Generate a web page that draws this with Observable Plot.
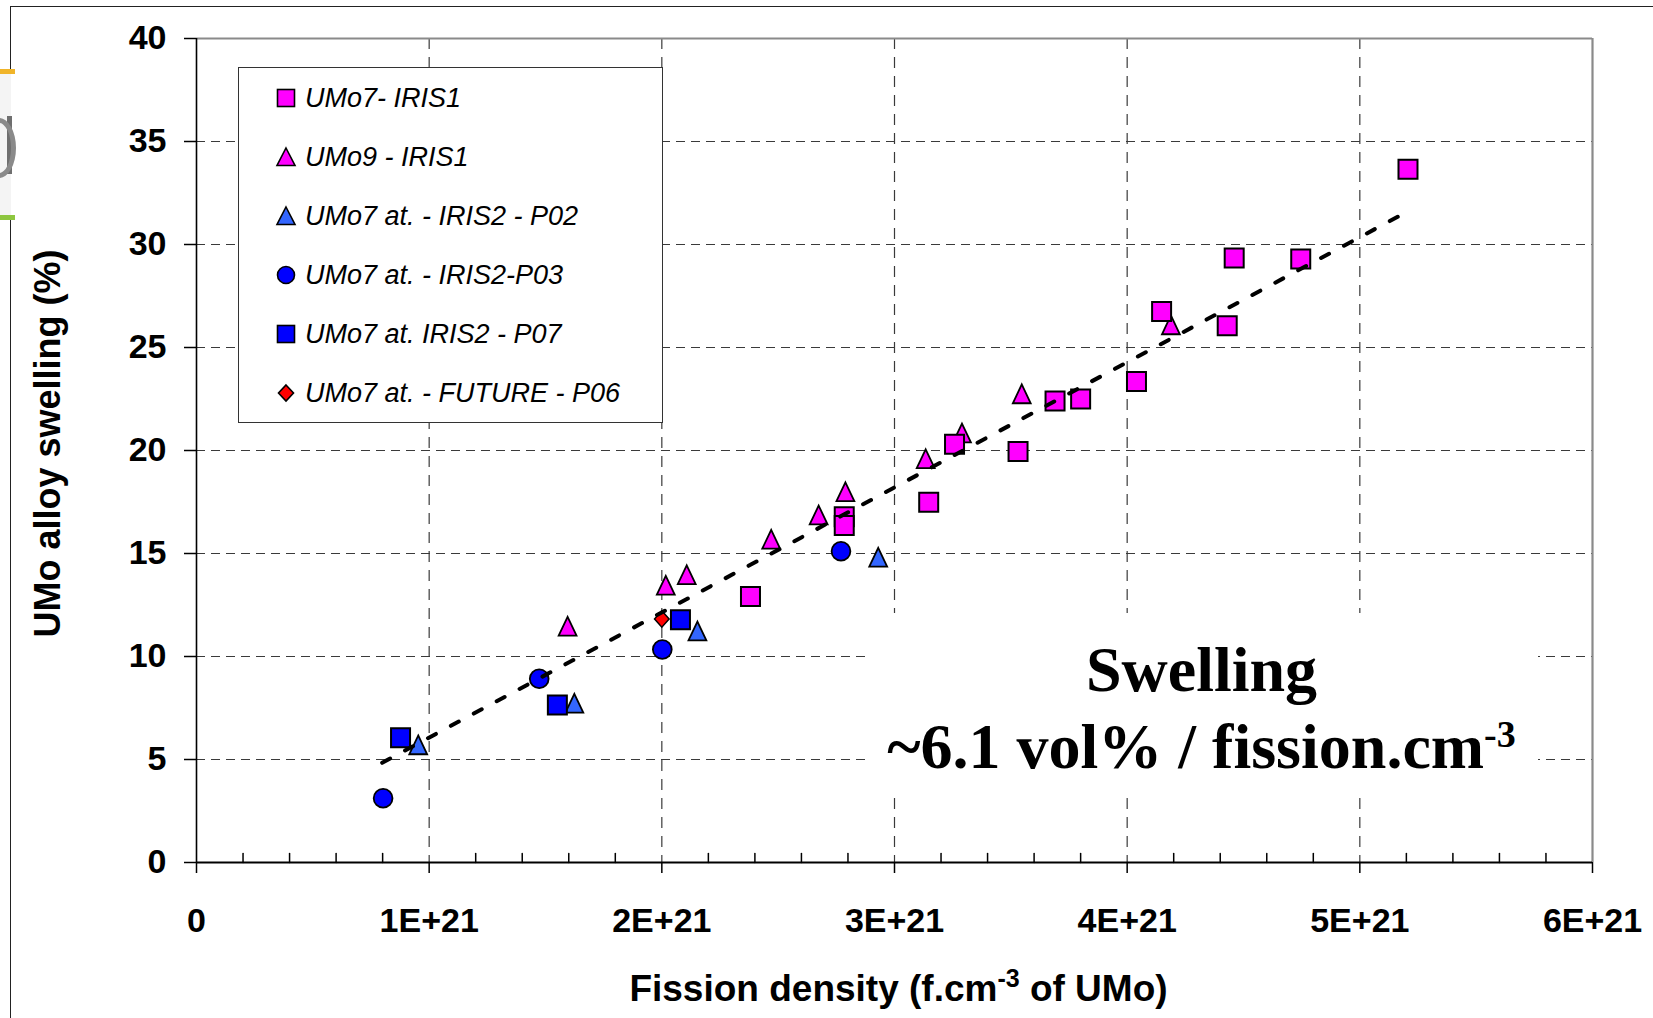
<!DOCTYPE html>
<html><head><meta charset="utf-8">
<script src="https://cdn.jsdelivr.net/npm/d3@7"></script>
<script src="https://cdn.jsdelivr.net/npm/@observablehq/plot@0.6"></script>
<style>
html,body{margin:0;padding:0;overflow:hidden;background:#fff;}
#wrap{position:relative;width:1653px;height:1018px;overflow:hidden;}
#wrap svg{position:absolute;left:0;top:0;}
.ov{position:absolute;}
#legend{font-family:'Liberation Sans',Arial,sans-serif;font-style:italic;font-size:27px;color:#000;}
#legend .item{position:absolute;left:0;height:0;}
#legend .item svg{position:absolute;left:35px;top:-12px;}
#legend .item span{position:absolute;left:66px;top:-16px;line-height:32px;white-space:nowrap;}
#note{font-family:'Liberation Serif','Times New Roman',serif;font-weight:bold;font-size:64px;color:#000;}
#note div{position:absolute;left:0;right:0;text-align:center;line-height:64px;white-space:nowrap;}
#note sup{font-size:38px;vertical-align:0;position:relative;top:-21px;line-height:0;}
</style></head><body><div id="wrap"></div>
<script>
// ---------- data ----------
const xTicks = [0, 1e21, 2e21, 3e21, 4e21, 5e21, 6e21];
const xTickLabels = ["0", "1E+21", "2E+21", "3E+21", "4E+21", "5E+21", "6E+21"];
const xMinor = [0.2e21,0.4e21,0.6e21,0.8e21,1.2e21,1.4e21,1.6e21,1.8e21,2.2e21,2.4e21,2.6e21,2.8e21,3.2e21,3.4e21,3.6e21,3.8e21,4.2e21,4.4e21,4.6e21,4.8e21,5.2e21,5.4e21,5.6e21,5.8e21];
const yTicks = [0, 5, 10, 15, 20, 25, 30, 35, 40];
const xGrid = [1e21, 2e21, 3e21, 4e21, 5e21];
const yGrid = [5, 10, 15, 20, 25, 30, 35];

// UMo7- IRIS1 (magenta squares)
const iris1SqX = [5.207e21, 4.46e21, 4.746e21, 4.148e21, 4.43e21, 4.04e21, 3.69e21, 3.80e21, 3.531e21, 3.258e21, 3.147e21, 2.784e21, 2.784e21, 2.381e21];
const iris1SqY = [33.65, 29.35, 29.3, 26.75, 26.05, 23.35, 22.4, 22.5, 19.95, 20.3, 17.49, 16.78, 16.36, 12.91];
// UMo9 - IRIS1 (magenta triangles)
const iris1TrX = [1.595e21, 2.017e21, 2.107e21, 2.47e21, 2.674e21, 2.789e21, 3.134e21, 3.29e21, 3.547e21, 4.188e21];
const iris1TrY = [11.47, 13.46, 13.97, 15.69, 16.87, 18.0, 19.6, 20.85, 22.75, 26.1];
// UMo7 at. - IRIS2 - P02 (blue triangles)
const p02X = [0.953e21, 1.624e21, 2.153e21, 2.93e21];
const p02Y = [5.71, 7.73, 11.24, 14.82];
// UMo7 at. - IRIS2-P03 (blue circles)
const p03X = [0.802e21, 1.473e21, 2.002e21, 2.770e21];
const p03Y = [3.12, 8.92, 10.34, 15.11];
// UMo7 at. IRIS2 - P07 (blue squares)
const p07X = [0.877e21, 1.551e21, 2.08e21];
const p07Y = [6.05, 7.65, 11.79];
// UMo7 at. - FUTURE - P06 (red diamond)
const p06X = [2.0e21];
const p06Y = [11.82];
// linear trend (dashed)
const trendX = [0.798e21, 5.205e21];
const trendY = [4.84, 31.6];

const legendLabels = ["UMo7- IRIS1", "UMo9 - IRIS1", "UMo7 at. - IRIS2 - P02", "UMo7 at. - IRIS2-P03", "UMo7 at. IRIS2 - P07", "UMo7 at. - FUTURE - P06"];
const legendShapes = ["square", "triangle", "triangle", "circle", "square", "diamond"];
const legendColors = ["#ff00ff", "#ff00ff", "#3366ff", "#0000ff", "#0000ff", "#ff0000"];

const xTitleParts = ["Fission density (f.cm", "-3", " of UMo)"];
const yTitle = "UMo alloy swelling (%)";
const noteLine1 = "Swelling";
const noteLine2 = ["~6.1 vol% / fission.cm", "-3"];

// ---------- symbols ----------
const rad = s => Math.sqrt(s / Math.PI);
const symSquare = {draw(c, s){ const r = rad(s); c.moveTo(-r,-r); c.lineTo(r,-r); c.lineTo(r,r); c.lineTo(-r,r); c.closePath(); }};
const symTri = {draw(c, s){ const r = rad(s); const w = r*0.95; c.moveTo(0,-r); c.lineTo(w,r); c.lineTo(-w,r); c.closePath(); }};
const symCircle = {draw(c, s){ const r = rad(s); c.moveTo(r,0); c.arc(0,0,r,0,2*Math.PI); c.closePath(); }};
const symDiamond = {draw(c, s){ const r = rad(s); c.moveTo(0,-r*1.12); c.lineTo(r,0); c.lineTo(0,r*1.12); c.lineTo(-r,0); c.closePath(); }};
const tickShape = {draw(c, l){ c.moveTo(0,0); c.lineTo(0,-l); }};

const tbl = (xs, ys) => xs.map((x, i) => ({x, y: ys[i]}));
const xTitle = xTitleParts.join("");

const chart = Plot.plot({
  width: 1653, height: 1018,
  marginLeft: 196, marginRight: 61, marginTop: 38, marginBottom: 156,
  x: {domain: [0, 6e21]},
  y: {domain: [0, 40]},
  style: {fontFamily: "'Liberation Sans', Arial, sans-serif", background: "white", color: "black"},
  marks: [
    Plot.ruleY(yGrid, {stroke: "#3a3a3a", strokeWidth: 1.2, strokeDasharray: "9,6"}),
    Plot.ruleX(xGrid, {stroke: "#3a3a3a", strokeWidth: 1.2, strokeDasharray: "11,8"}),
    Plot.ruleY([40], {stroke: "#8a8a8a", strokeWidth: 2.2}),
    Plot.ruleX([6e21], {stroke: "#8a8a8a", strokeWidth: 2.2}),
    Plot.vector(xMinor, {x: d => d, y: () => 0, length: 9, rotate: 0, anchor: "start", shape: tickShape, stroke: "black", strokeWidth: 1.5}),
    Plot.ruleY([0], {stroke: "black", strokeWidth: 2}),
    Plot.ruleX([0], {stroke: "black", strokeWidth: 1.6}),
    Plot.axisX({ticks: xTicks, tickFormat: d => xTickLabels[xTicks.indexOf(d)], tickSize: 11, tickPadding: 34, fontSize: 34, fontWeight: "bold", stroke: "black", strokeWidth: 1.5, label: null}),
    Plot.axisY({ticks: yTicks, tickSize: 12, tickPadding: 18, fontSize: 34, fontWeight: "bold", stroke: "black", strokeWidth: 1.5, label: null}),
    Plot.dot(tbl(iris1TrX, iris1TrY), {x: "x", y: "y", symbol: symTri, r: 9.4, fill: "#ff00ff", stroke: "black", strokeWidth: 1.8}),
    Plot.dot(tbl(iris1SqX, iris1SqY), {x: "x", y: "y", symbol: symSquare, r: 9.5, fill: "#ff00ff", stroke: "black", strokeWidth: 2}),
    Plot.dot(tbl(p02X, p02Y), {x: "x", y: "y", symbol: symTri, r: 9.4, fill: "#3366ff", stroke: "black", strokeWidth: 1.8}),
    Plot.dot(tbl(p03X, p03Y), {x: "x", y: "y", symbol: symCircle, r: 9.4, fill: "#0000ff", stroke: "black", strokeWidth: 1.8}),
    Plot.dot(tbl(p07X, p07Y), {x: "x", y: "y", symbol: symSquare, r: 9.5, fill: "#0000ff", stroke: "black", strokeWidth: 2}),
    Plot.dot(tbl(p06X, p06Y), {x: "x", y: "y", symbol: symDiamond, r: 7.3, fill: "#ff0000", stroke: "black", strokeWidth: 1.5}),
    Plot.line(tbl(trendX, trendY), {x: "x", y: "y", stroke: "black", strokeWidth: 4, strokeDasharray: "9,17"}),
    Plot.text([xTitle], {frameAnchor: "bottom", textAnchor: "middle", dx: 4, dy: 138, lineAnchor: "bottom", fontSize: 37, fontWeight: "bold", fill: "black"}),
    Plot.text([yTitle], {frameAnchor: "left", textAnchor: "middle", rotate: -90, dx: -148, dy: -7, fontSize: 36, fontWeight: "bold", fill: "black"})
  ]
});

// superscript in x title
d3.select(chart).selectAll("text").filter(function(){ return this.textContent === xTitle; }).each(function(){
  const t = d3.select(this);
  t.text(null);
  t.append("tspan").text(xTitleParts[0]);
  t.append("tspan").attr("font-size", 25).attr("dy", -14).text(xTitleParts[1]);
  t.append("tspan").attr("dy", 14).text(xTitleParts[2]);
});

const wrap = document.getElementById("wrap");
wrap.appendChild(chart);

// slide frame + logo fragment on the left edge
const addDiv = (css) => { const d = document.createElement("div"); d.className = "ov"; d.style.cssText = css; wrap.appendChild(d); return d; };
addDiv("left:10px;top:6px;right:0;bottom:0;border-left:1.5px solid #222;border-top:1.5px solid #222;");
addDiv("left:0;top:74px;width:11px;height:142px;background:#f4f4f4;");
addDiv("left:0;top:69px;width:15px;height:5px;background:#f0b429;");
addDiv("left:0;top:215px;width:15px;height:5px;background:#8dc63f;");
addDiv("left:7px;top:116px;width:5px;height:58px;background:#6f6f6f;");
addDiv("left:-18px;top:118px;width:24px;height:50px;border:5px solid #8a8a8a;border-radius:50%;");

// legend
const leg = addDiv("left:238px;top:67px;width:425px;height:356px;border:1.5px solid #333;background:#fff;box-sizing:border-box;");
leg.id = "legend";
const shapeSvg = (shape, color) => {
  const s = 'stroke="#000" stroke-width="1.6" fill="' + color + '"';
  if (shape === "square") return '<rect x="3.5" y="3.5" width="17" height="17" ' + s + '/>';
  if (shape === "triangle") return '<polygon points="12,3 21,20.5 3,20.5" ' + s + '/>';
  if (shape === "circle") return '<circle cx="12" cy="12" r="8.5" ' + s + '/>';
  return '<polygon points="12,4 19.5,12 12,20 4.5,12" ' + s + '/>';
};
legendLabels.forEach((lab, i) => {
  const it = document.createElement("div");
  it.className = "item";
  it.style.top = (30 + i * 59) + "px";
  it.innerHTML = '<svg width="24" height="24" viewBox="0 0 24 24">' + shapeSvg(legendShapes[i], legendColors[i]) + '</svg>';
  const sp = document.createElement("span"); sp.textContent = lab; it.appendChild(sp);
  leg.appendChild(it);
});

// annotation
const note = addDiv("left:865px;top:613px;width:673px;height:181px;background:#fff;");
note.id = "note";
const l1 = document.createElement("div"); l1.style.top = "25px"; l1.textContent = noteLine1; note.appendChild(l1);
const l2 = document.createElement("div"); l2.style.top = "102px";
l2.appendChild(document.createTextNode(noteLine2[0]));
const sup = document.createElement("sup"); sup.textContent = noteLine2[1]; l2.appendChild(sup);
note.appendChild(l2);
</script></body></html>
